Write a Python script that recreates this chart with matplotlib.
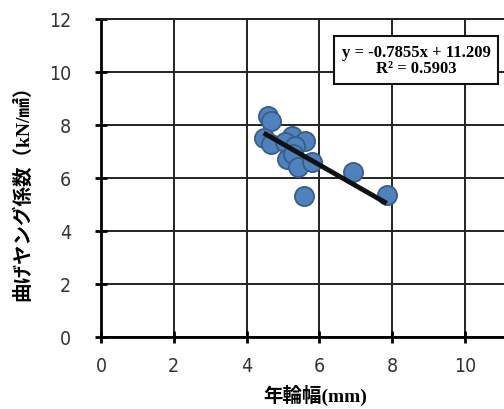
import matplotlib
matplotlib.use("Agg")
import matplotlib.pyplot as plt
import numpy as np

ring_width = [4.59, 4.68, 4.47, 4.67, 5.24, 5.60, 5.05, 5.33, 5.10, 5.28, 5.42, 5.79, 5.58, 6.91, 7.85]
young_mod = [8.35, 8.15, 7.52, 7.28, 7.60, 7.40, 7.34, 7.21, 6.72, 6.91, 6.42, 6.60, 5.33, 6.22, 5.35]
slope = -0.7855
intercept = 11.209
r2 = 0.5903
xticks = [0, 2, 4, 6, 8, 10]
yticks = [0, 2, 4, 6, 8, 10, 12]

fig = plt.figure(figsize=(5.04, 4.10), dpi=100)
ax = fig.add_axes([101/504, 1-338/410, 1-101/504, (338-20)/410])
ax.set_xlim(0, (504-101)/36.4)
ax.set_ylim(0, 12)
ax.set_xticks(xticks)
ax.set_yticks(yticks)
ax.grid(True, color='#222222', linewidth=1.4)
ax.set_axisbelow(True)
ax.spines['right'].set_visible(False)
ax.spines['top'].set_linewidth(1.4)
ax.spines['top'].set_color('#222222')
for s in ['left', 'bottom']:
    ax.spines[s].set_linewidth(2)
ax.tick_params(direction='inout', length=9, width=2)
ax.tick_params(axis='y', pad=17)
ax.tick_params(axis='x', pad=9)
for lab in ax.get_xticklabels() + ax.get_yticklabels():
    lab.set_fontfamily('DejaVu Sans')
    lab.set_fontstretch('condensed')
    lab.set_fontsize(14)
    lab.set_color('#333333')

ax.scatter(ring_width, young_mod, s=190, facecolor='#4F81BD', edgecolor='#385D8A',
           linewidth=1.3, zorder=3)
xl = np.array([min(ring_width), max(ring_width)])
ax.plot(xl, slope*xl + intercept, color='#111111', linewidth=3.5, zorder=4,
        solid_capstyle='butt')

eq = f"y = {slope}x + {intercept}\nR² = {r2}"
fig.text(416/504, 1-61/410, eq, ha='center', va='center', fontsize=12,
         fontweight='bold', family=['Liberation Serif', 'DejaVu Serif'],
         linespacing=1.05,
         bbox=dict(boxstyle='square,pad=0.45', facecolor='white', edgecolor='#111111', linewidth=1.5))

mixed = ['Liberation Serif', 'Noto Sans CJK JP', 'DejaVu Sans']
fig.text(22/504, 1-188/410, '曲げヤング係数（kN/㎟）', rotation=90, ha='center', va='center',
         fontsize=14, fontweight='bold', family=mixed)
fig.text(315/504, 1-395/410, '年輪幅(mm)', ha='center', va='center',
         fontsize=14, fontweight='bold', family=mixed)

fig.savefig('out.png', dpi=100)
